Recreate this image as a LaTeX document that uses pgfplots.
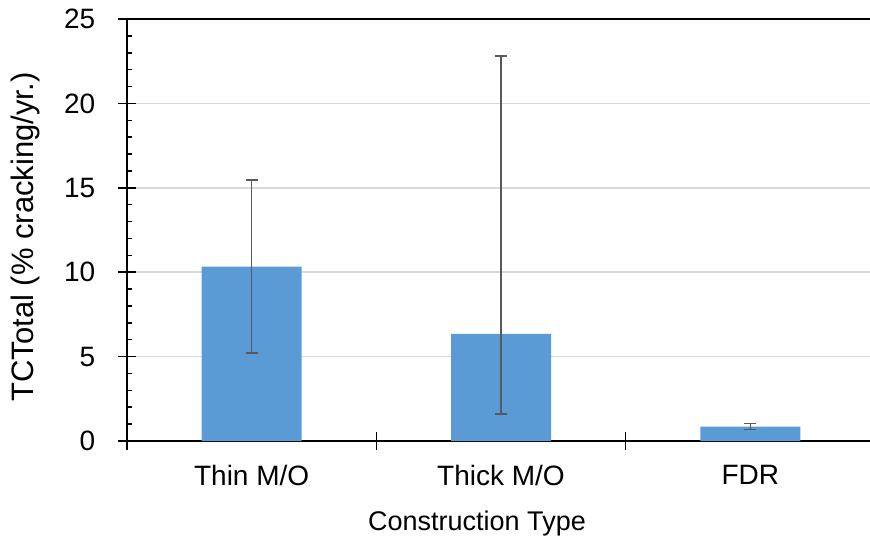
\documentclass[border=0pt]{standalone}
\usepackage{fontspec}
\setmainfont{Liberation Sans}
\usepackage{pgfplots}
\pgfplotsset{compat=1.18}
\definecolor{barblue}{HTML}{5B9BD5}
\definecolor{errgray}{HTML}{595959}
\definecolor{gridgray}{HTML}{D9D9D9}
\begin{document}
\fontsize{14}{16}\selectfont
\begin{tikzpicture}
\begin{axis}[
  scale only axis, width=374pt, height=211pt,
  xmin=-0.5, xmax=2.5, ymin=0, ymax=25,
  axis x line=box, axis y line=left,
  axis line style={-, black, line width=0.75pt},
  ytick={0,5,...,25},
  ymajorgrids, grid style={gridgray, line width=0.75pt},
  xtick={-0.5,0.5,1.5}, xticklabels={},
  xtick pos=bottom, ytick pos=left,
  extra x ticks={0,1,2},
  extra x tick labels={Thin M/O, Thick M/O, FDR},
  extra x tick style={tick align=inside, major tick length=3.5pt, grid=none},
  extra y ticks={1,2,3,4,6,7,8,9,11,12,13,14,16,17,18,19,21,22,23,24},
  extra y tick labels={},
  extra y tick style={tick align=inside, major tick length=2.5pt, grid=none},
  tick align=center, major tick length=9pt,
  tick style={black, line width=0.75pt},
  yticklabel style={anchor=east, xshift=-6.5pt},
  xticklabel style={anchor=north, yshift=-7pt},
  ylabel={TCTotal (\% cracking/yr.)},
  xlabel={Construction Type},
  ylabel style={at={(axis description cs:0,0.5)}, anchor=center, rotate=0, yshift=51pt, xshift=-3.5pt, font=\fontsize{15.5}{17}\selectfont},
  xlabel style={at={(axis description cs:0.5,0)}, anchor=center, yshift=-41.5pt, xshift=-12pt, font=\fontsize{13.5}{16}\selectfont},
  /pgf/number format/assume math mode=true,
  tick label style={font=\fontsize{14}{16}\selectfont},
]
\addplot[ybar, fill=barblue, draw=none, bar width=50pt,
  error bars/.cd, y dir=both, y explicit,
  error bar style={errgray, line width=0.75pt},
  error mark options={rotate=90, errgray, mark size=3pt, line width=0.75pt}]
  coordinates {
    (0,10.33) += (0,5.13) -= (0,5.12)
    (1,6.34) += (0,16.46) -= (0,4.74)
    (2,0.85) += (0,0.18) -= (0,0.18)
  };
\coordinate (bl) at (rel axis cs:0,0);
\coordinate (tr) at (rel axis cs:1,1);
\end{axis}
\pgfresetboundingbox
\path ([xshift=-63.5pt,yshift=-49.5pt]bl) rectangle ([xshift=-2.5pt,yshift=9.5pt]tr);
\end{tikzpicture}
\end{document}
